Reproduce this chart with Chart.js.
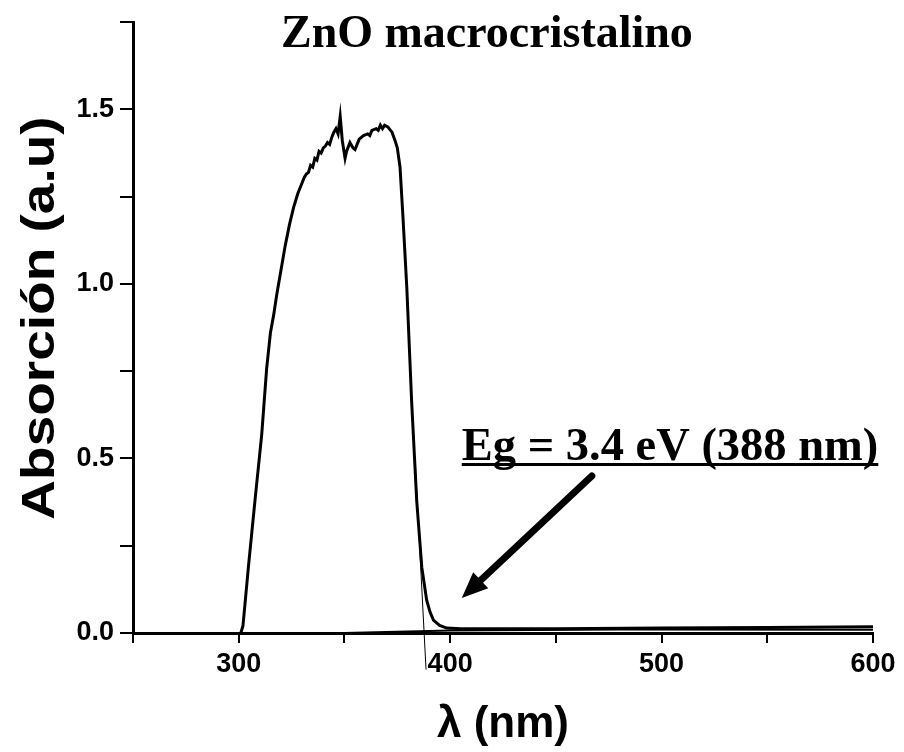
<!DOCTYPE html>
<html lang="es">
<head>
  <meta charset="UTF-8">
  <title>ZnO macrocristalino</title>
  <script src="https://cdn.jsdelivr.net/npm/chart.js"></script>
  <style>
    body { margin: 0; background: #fff; }
    canvas { display: block; }
  </style>
</head>
<body>
  <canvas id="grafico" width="904" height="752"></canvas>
  <script>
    // Espectro de absorción
    const longitudOnda = [301, 302, 304.6, 307.7, 310.9, 313.2, 315, 316.5, 318, 320, 322, 324, 326, 328, 330, 331, 332, 333, 334, 335, 336, 337, 338, 339, 340, 341, 342, 343, 344, 345, 346, 347, 348, 349, 350.3, 351, 352.6, 354, 355, 356, 357, 359, 361, 362, 363, 365, 366, 367, 368, 369, 370.5, 372.5, 374, 375, 376.3, 377.7, 379.5, 381.8, 384.2, 386.6, 388.9, 390.5, 392.1, 395, 398.4, 405, 450, 500, 550, 600];
    const absorcion = [0, 0.02, 0.19, 0.38, 0.57, 0.757, 0.86, 0.91, 0.97, 1.04, 1.11, 1.17, 1.22, 1.26, 1.29, 1.305, 1.315, 1.32, 1.34, 1.335, 1.36, 1.355, 1.38, 1.375, 1.39, 1.395, 1.405, 1.4, 1.42, 1.435, 1.445, 1.43, 1.48, 1.41, 1.36, 1.38, 1.405, 1.39, 1.385, 1.4, 1.415, 1.425, 1.43, 1.425, 1.44, 1.445, 1.44, 1.455, 1.445, 1.455, 1.45, 1.435, 1.41, 1.39, 1.335, 1.19, 0.99, 0.662, 0.378, 0.188, 0.094, 0.06, 0.037, 0.022, 0.014, 0.012, 0.012, 0.014, 0.016, 0.018];

    // línea base
    const baseX = [350, 400, 480, 600];
    const baseY = [0, 0.007, 0.01, 0.009];

    // extrapolación del borde (tangente)
    const tangenteX = [383.4, 388.6];
    const tangenteY = [0.5, -0.105];

    const ticksX = [300, 400, 500, 600];
    const ticksY = [0.0, 0.5, 1.0, 1.5];

    const titulo = 'ZnO macrocristalino';
    const tituloEjeX = 'λ (nm)';
    const tituloEjeY = 'Absorción (a.u)';
    const nota = 'Eg = 3.4 eV (388 nm)';
    const notaPos = [405.5, 0.497];
    const flechaDesde = [467, 0.45];
    const flechaHasta = [405.5, 0.1];

    const puntos = (xs, ys) => xs.map((x, i) => ({ x, y: ys[i] }));

    const textos = {
      id: 'textos',
      afterDraw(chart) {
        const ctx = chart.ctx;
        const sx = chart.scales.x, sy = chart.scales.y;
        ctx.save();
        ctx.fillStyle = '#000';
        ctx.strokeStyle = '#000';

        // título
        ctx.font = 'bold 46px "Liberation Serif", "Times New Roman", serif';
        ctx.textAlign = 'left';
        ctx.textBaseline = 'alphabetic';
        ctx.fillText(titulo, 281, 47);

        // título eje x
        ctx.font = 'bold 44px "Liberation Sans", Arial, sans-serif';
        ctx.textAlign = 'center';
        ctx.fillText(tituloEjeX, (sx.left + sx.right) / 2, 737);

        // título eje y
        ctx.save();
        ctx.translate(54, 318);
        ctx.rotate(-Math.PI / 2);
        ctx.scale(1.17, 1);
        ctx.font = 'bold 47px "Liberation Sans", Arial, sans-serif';
        ctx.fillText(tituloEjeY, 0, 0);
        ctx.restore();

        // nota Eg
        const nx = sx.getPixelForValue(notaPos[0]);
        const ny = sy.getPixelForValue(notaPos[1]);
        ctx.font = 'bold 46.5px "Liberation Serif", "Times New Roman", serif';
        ctx.textAlign = 'left';
        ctx.fillText(nota, nx, ny);
        const w = ctx.measureText(nota).width;
        ctx.lineWidth = 3;
        ctx.beginPath();
        ctx.moveTo(nx, ny + 5);
        ctx.lineTo(nx + w, ny + 5);
        ctx.stroke();

        // flecha
        const x1 = sx.getPixelForValue(flechaDesde[0]), y1 = sy.getPixelForValue(flechaDesde[1]);
        const x2 = sx.getPixelForValue(flechaHasta[0]), y2 = sy.getPixelForValue(flechaHasta[1]);
        const ang = Math.atan2(y2 - y1, x2 - x1);
        const largo = 26, ancho = 11;
        const bx = x2 - largo * Math.cos(ang), by = y2 - largo * Math.sin(ang);
        ctx.lineWidth = 7;
        ctx.lineCap = 'round';
        ctx.beginPath();
        ctx.moveTo(x1, y1);
        ctx.lineTo(bx, by);
        ctx.stroke();
        ctx.beginPath();
        ctx.moveTo(x2, y2);
        ctx.lineTo(bx + ancho * Math.sin(ang), by - ancho * Math.cos(ang));
        ctx.lineTo(bx - ancho * Math.sin(ang), by + ancho * Math.cos(ang));
        ctx.closePath();
        ctx.fill();
        ctx.restore();
      }
    };

    const fuenteTicks = { family: '"Liberation Sans", Arial, sans-serif', size: 27, weight: 'bold' };

    new Chart(document.getElementById('grafico').getContext('2d'), {
      type: 'scatter',
      data: {
        datasets: [
          {
            data: puntos(longitudOnda, absorcion),
            borderColor: '#000',
            borderWidth: 3,
            showLine: true,
            pointRadius: 0,
            tension: 0
          },
          {
            data: puntos(baseX, baseY),
            borderColor: '#000',
            borderWidth: 2,
            showLine: true,
            pointRadius: 0
          },
          {
            data: puntos(tangenteX, tangenteY),
            borderColor: '#000',
            borderWidth: 1,
            showLine: true,
            pointRadius: 0,
            clip: false
          }
        ]
      },
      options: {
        responsive: false,
        animation: false,
        layout: { padding: { top: 17, right: 31, left: 0, bottom: 0 } },
        plugins: { legend: { display: false }, tooltip: { enabled: false } },
        scales: {
          x: {
            type: 'linear',
            min: 250,
            max: 600,
            afterFit: (s) => { s.height = 119; },
            border: { color: '#000', width: 3 },
            grid: { drawOnChartArea: false, color: '#000', tickLength: 10, lineWidth: 2 },
            ticks: {
              stepSize: 50,
              color: '#000',
              font: fuenteTicks,
              padding: 5,
              maxRotation: 0,
              callback: (v) => ticksX.includes(v) ? String(v) : ''
            }
          },
          y: {
            min: 0,
            max: 1.75,
            afterFit: (s) => { s.width = 133; },
            border: { color: '#000', width: 3 },
            grid: { drawOnChartArea: false, color: '#000', tickLength: 13, lineWidth: 2 },
            ticks: {
              stepSize: 0.25,
              color: '#000',
              font: fuenteTicks,
              padding: 6,
              callback: (v) => ticksY.some(t => Math.abs(t - v) < 1e-9) ? v.toFixed(1) : ''
            }
          }
        }
      },
      plugins: [textos]
    });
  </script>
</body>
</html>
